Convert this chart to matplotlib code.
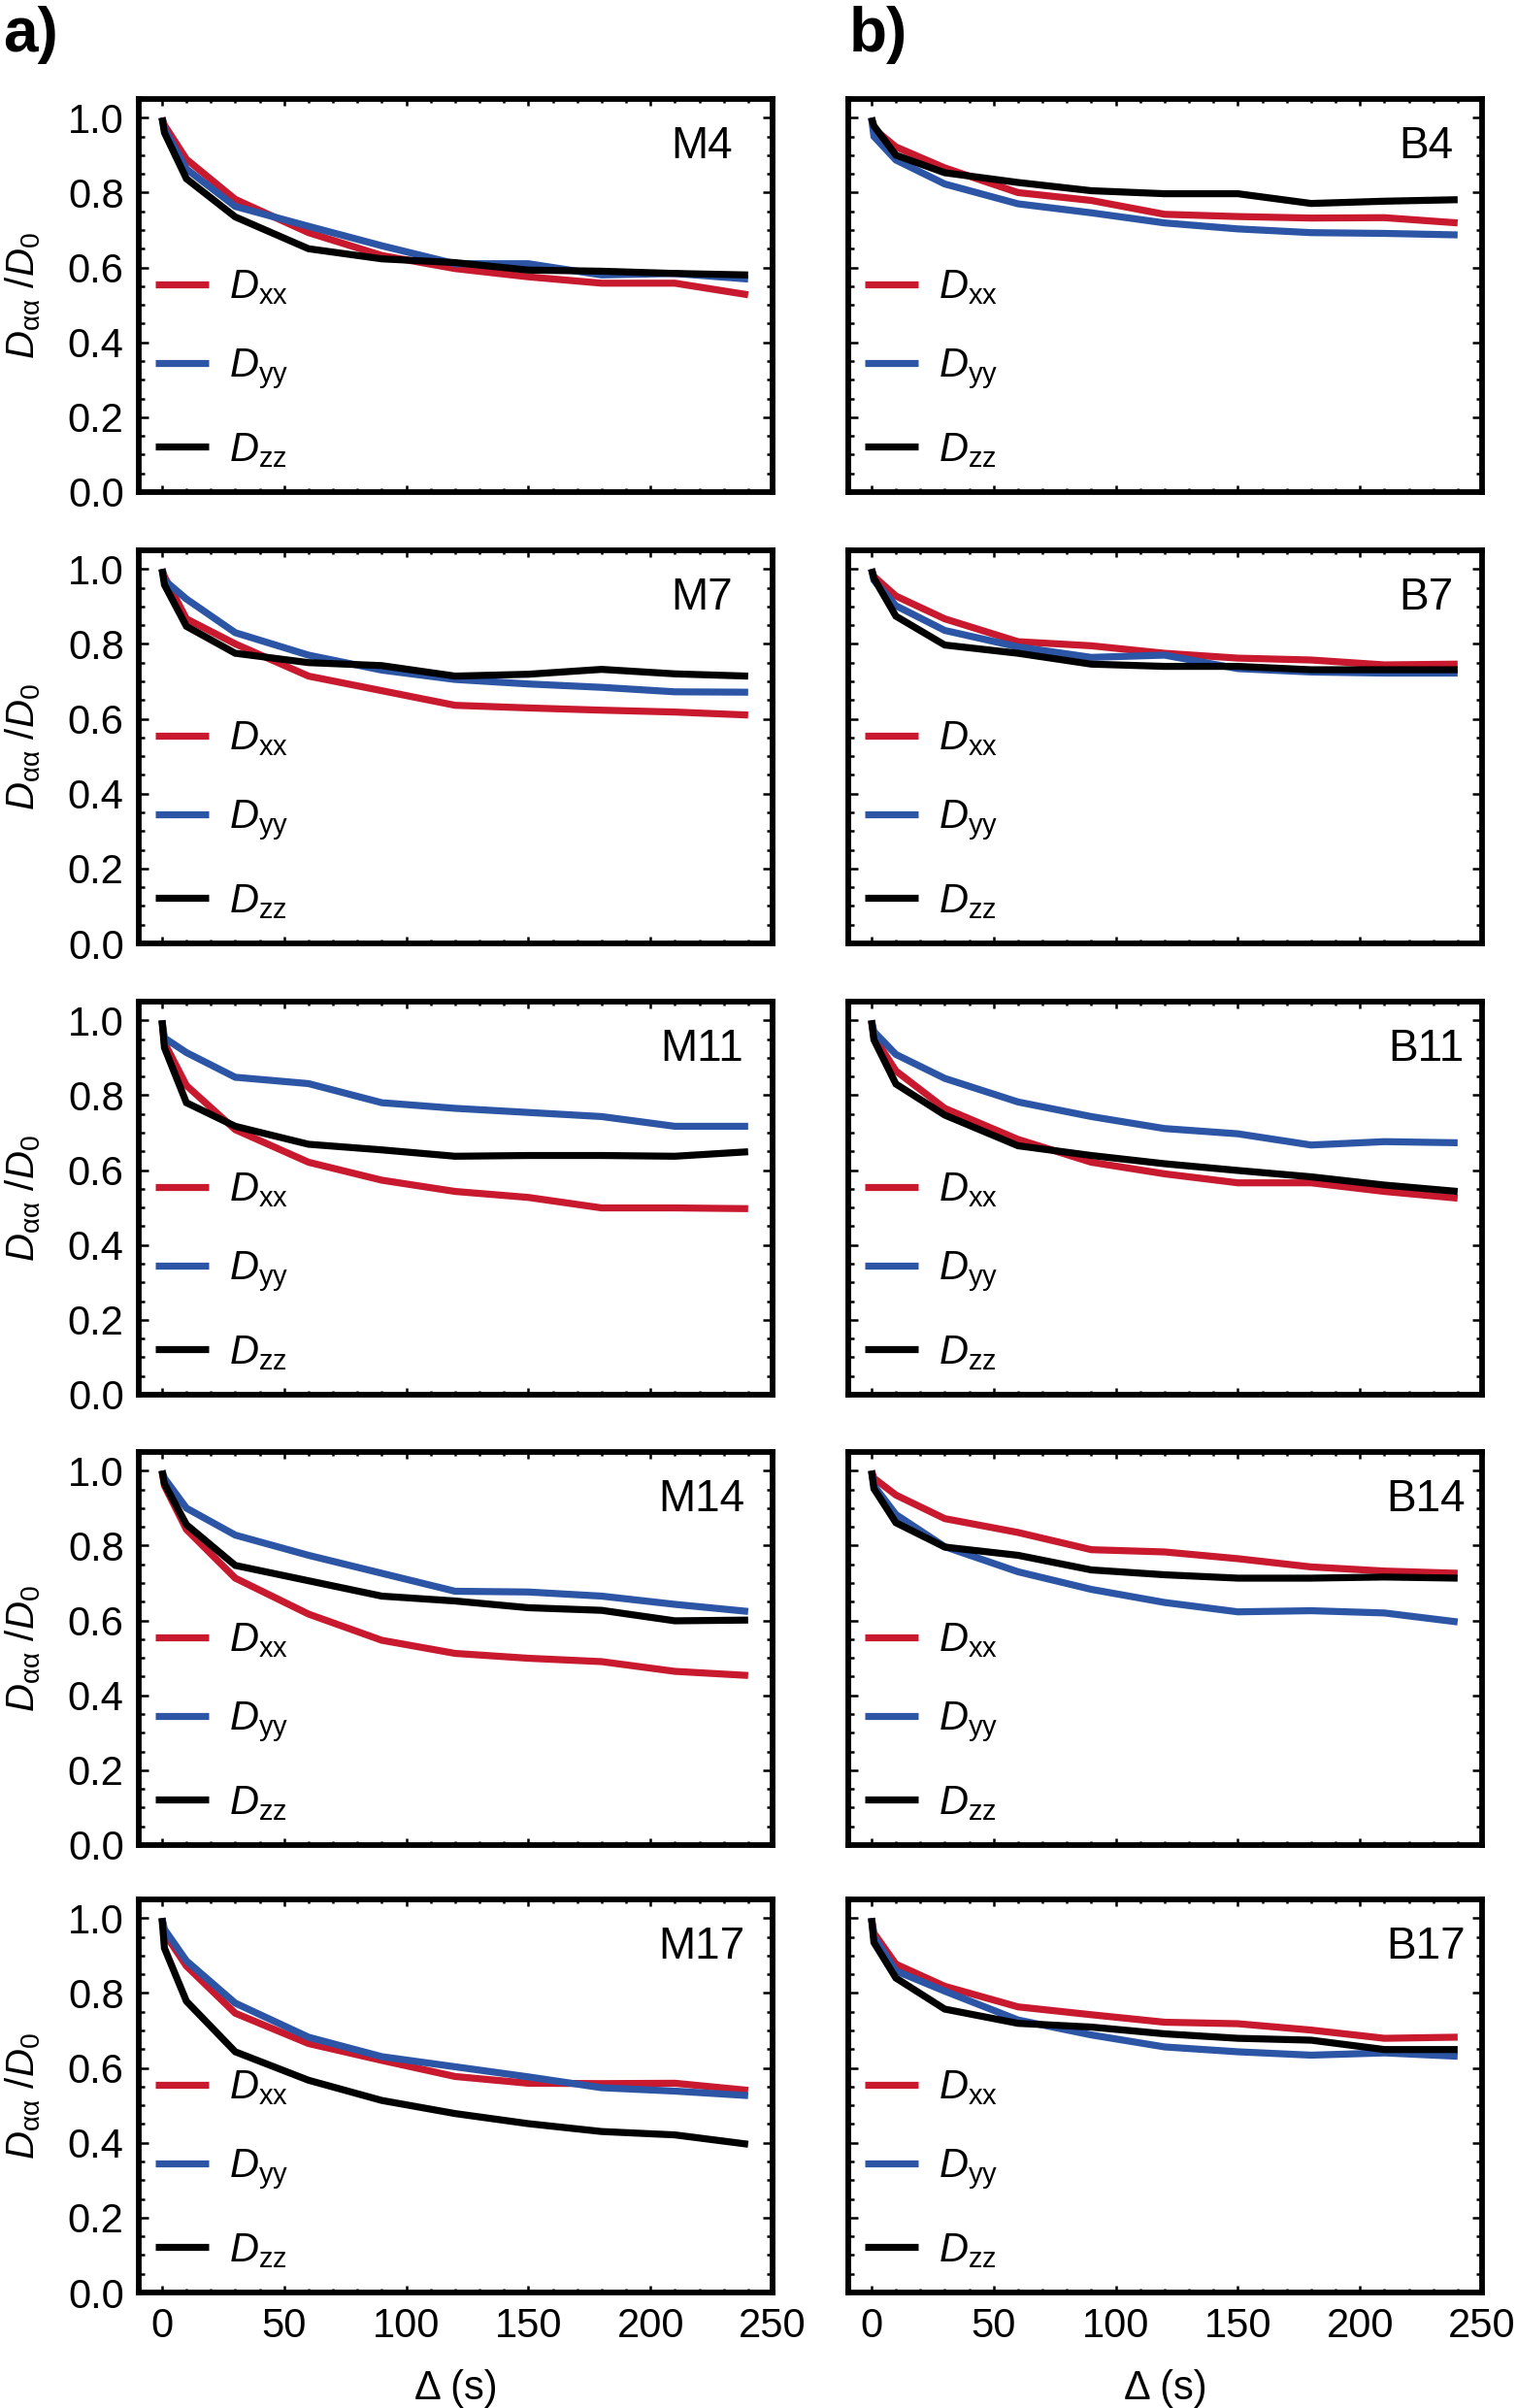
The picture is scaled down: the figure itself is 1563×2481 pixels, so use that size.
import matplotlib
matplotlib.use('Agg')
import matplotlib.pyplot as plt
from matplotlib.ticker import MultipleLocator

plt.rcParams['font.family'] = ['Liberation Sans', 'DejaVu Sans']
plt.rcParams['mathtext.fontset'] = 'custom'
plt.rcParams['mathtext.rm'] = 'Liberation Sans'
plt.rcParams['mathtext.it'] = 'Liberation Sans:italic'

# diffusion time (s)
delta = [0, 1, 10, 30, 60, 90, 120, 150, 180, 210, 240]

# column a) M samples
M4_xx = [1.0, 0.98, 0.889, 0.782, 0.693, 0.632, 0.597, 0.575, 0.558, 0.558, 0.527]
M4_yy = [1.0, 0.97, 0.863, 0.763, 0.710, 0.658, 0.610, 0.610, 0.580, 0.584, 0.569]
M4_zz = [1.0, 0.96, 0.837, 0.735, 0.650, 0.623, 0.613, 0.593, 0.590, 0.584, 0.580]

M7_xx = [1.0, 0.98, 0.867, 0.800, 0.714, 0.675, 0.636, 0.629, 0.623, 0.618, 0.610]
M7_yy = [1.0, 0.97, 0.920, 0.830, 0.770, 0.730, 0.705, 0.693, 0.684, 0.672, 0.671]
M7_zz = [1.0, 0.958, 0.847, 0.775, 0.750, 0.742, 0.714, 0.719, 0.732, 0.720, 0.714]

M11_xx = [1.0, 0.94, 0.826, 0.708, 0.621, 0.573, 0.543, 0.527, 0.499, 0.499, 0.497]
M11_yy = [1.0, 0.953, 0.914, 0.848, 0.831, 0.780, 0.765, 0.754, 0.743, 0.717, 0.717]
M11_zz = [1.0, 0.927, 0.780, 0.717, 0.669, 0.654, 0.637, 0.639, 0.639, 0.637, 0.649]

M14_xx = [1.0, 0.96, 0.843, 0.713, 0.617, 0.547, 0.512, 0.499, 0.490, 0.464, 0.453]
M14_yy = [1.0, 0.98, 0.900, 0.828, 0.774, 0.726, 0.678, 0.676, 0.665, 0.643, 0.624]
M14_zz = [1.0, 0.965, 0.856, 0.747, 0.706, 0.665, 0.652, 0.634, 0.627, 0.599, 0.601]

M17_xx = [1.0, 0.96, 0.872, 0.746, 0.665, 0.620, 0.577, 0.559, 0.558, 0.559, 0.540]
M17_yy = [1.0, 0.97, 0.886, 0.773, 0.682, 0.630, 0.603, 0.576, 0.547, 0.538, 0.526]
M17_zz = [1.0, 0.92, 0.778, 0.643, 0.567, 0.513, 0.478, 0.451, 0.430, 0.421, 0.396]

# column b) B samples
B4_xx = [1.0, 0.97, 0.922, 0.866, 0.800, 0.779, 0.742, 0.736, 0.732, 0.733, 0.719]
B4_yy = [1.0, 0.95, 0.887, 0.823, 0.770, 0.746, 0.719, 0.703, 0.693, 0.691, 0.687]
B4_zz = [1.0, 0.978, 0.900, 0.853, 0.827, 0.805, 0.797, 0.797, 0.771, 0.777, 0.781]

B7_xx = [1.0, 0.98, 0.928, 0.867, 0.806, 0.795, 0.775, 0.762, 0.757, 0.744, 0.746]
B7_yy = [1.0, 0.97, 0.902, 0.836, 0.792, 0.764, 0.770, 0.734, 0.725, 0.722, 0.722]
B7_zz = [1.0, 0.975, 0.874, 0.797, 0.775, 0.746, 0.740, 0.740, 0.731, 0.731, 0.731]

B11_xx = [1.0, 0.956, 0.865, 0.765, 0.682, 0.621, 0.590, 0.566, 0.566, 0.543, 0.525]
B11_yy = [1.0, 0.97, 0.909, 0.845, 0.782, 0.743, 0.711, 0.697, 0.667, 0.676, 0.673]
B11_zz = [1.0, 0.948, 0.830, 0.747, 0.665, 0.639, 0.617, 0.599, 0.582, 0.560, 0.543]

B14_xx = [1.0, 0.98, 0.935, 0.872, 0.835, 0.789, 0.783, 0.765, 0.743, 0.732, 0.726]
B14_yy = [1.0, 0.96, 0.883, 0.797, 0.730, 0.683, 0.648, 0.623, 0.626, 0.620, 0.596]
B14_zz = [1.0, 0.952, 0.861, 0.796, 0.774, 0.735, 0.722, 0.713, 0.713, 0.716, 0.713]

B17_xx = [1.0, 0.96, 0.877, 0.818, 0.763, 0.742, 0.722, 0.718, 0.701, 0.679, 0.682]
B17_yy = [1.0, 0.95, 0.859, 0.805, 0.728, 0.688, 0.656, 0.643, 0.634, 0.640, 0.631]
B17_zz = [1.0, 0.935, 0.840, 0.757, 0.719, 0.709, 0.691, 0.679, 0.674, 0.649, 0.649]

left_names = ['M4', 'M7', 'M11', 'M14', 'M17']
right_names = ['B4', 'B7', 'B11', 'B14', 'B17']
left_data = [(M4_xx, M4_yy, M4_zz), (M7_xx, M7_yy, M7_zz), (M11_xx, M11_yy, M11_zz),
             (M14_xx, M14_yy, M14_zz), (M17_xx, M17_yy, M17_zz)]
right_data = [(B4_xx, B4_yy, B4_zz), (B7_xx, B7_yy, B7_zz), (B11_xx, B11_yy, B11_zz),
              (B14_xx, B14_yy, B14_zz), (B17_xx, B17_yy, B17_zz)]

labels = [r'$D_{\mathrm{xx}}$', r'$D_{\mathrm{yy}}$', r'$D_{\mathrm{zz}}$']
colors = ['#C8192F', '#2D55A5', '#000000']

W, H = 1563, 2481
fig = plt.figure(figsize=(W / 100, H / 100), dpi=100)

tops = [102, 567, 1032, 1496, 1957]
ax_h = 405
cols = [(143, 653), (874, 653)]
name_x = [0.888, 0.912]


def make_panel(ax, name, series, show_y, show_x, nx):
    for vals, lab, c in zip(series, labels, colors):
        ax.plot(delta, vals, color=c, lw=5.2, label=lab, solid_joinstyle='miter',
                solid_capstyle='butt')
    ax.set_xlim(-9.5, 250)
    ax.set_ylim(0, 1.05)
    ax.xaxis.set_major_locator(MultipleLocator(50))
    ax.xaxis.set_minor_locator(MultipleLocator(10))
    ax.yaxis.set_major_locator(MultipleLocator(0.2))
    ax.yaxis.set_minor_locator(MultipleLocator(0.05))
    ax.yaxis.set_major_formatter(plt.FuncFormatter(lambda v, p: f'{v:.1f}'))
    ax.tick_params(axis='both', which='both', direction='in', top=True, right=True,
                   labelsize=30, pad=11, width=1.8)
    ax.tick_params(axis='x', which='major', length=5)
    ax.tick_params(axis='x', which='minor', length=3)
    ax.tick_params(axis='y', which='major', length=7)
    ax.tick_params(axis='y', which='minor', length=4)
    ax.tick_params(labelleft=show_y, labelbottom=show_x)
    for s in ax.spines.values():
        s.set_linewidth(4.2)
    ax.text(nx, 0.85, name, transform=ax.transAxes, ha='center', va='baseline', fontsize=33)
    ax.legend(loc='lower left', bbox_to_anchor=(0.026, 0.057), frameon=False, fontsize=30,
              handlelength=1.32, handletextpad=0.5, labelspacing=0.98, borderpad=0,
              borderaxespad=0)
    if show_x:
        ax.set_xlabel('Δ (s)', fontsize=30, labelpad=17)


for r in range(5):
    y0 = 1 - (tops[r] + ax_h) / H
    for c, (names, data) in enumerate([(left_names, left_data), (right_names, right_data)]):
        x0, w = cols[c]
        ax = fig.add_axes([x0 / W, y0, w / W, ax_h / H])
        make_panel(ax, names[r], data[r], show_y=(c == 0), show_x=(r == 4), nx=name_x[c])
    fig.text(24 / W, 1 - (tops[r] + ax_h / 2) / H, r'$D_{\mathrm{\alpha\alpha}}\ /D_0$',
             rotation=90, ha='center', va='center', fontsize=29)

fig.text(3 / W, 1 - 6 / H, 'a)', fontsize=46, fontweight='bold', ha='left', va='top')
fig.text(875 / W, 1 - 6 / H, 'b)', fontsize=46, fontweight='bold', ha='left', va='top')

fig.savefig('out.png', dpi=100)
